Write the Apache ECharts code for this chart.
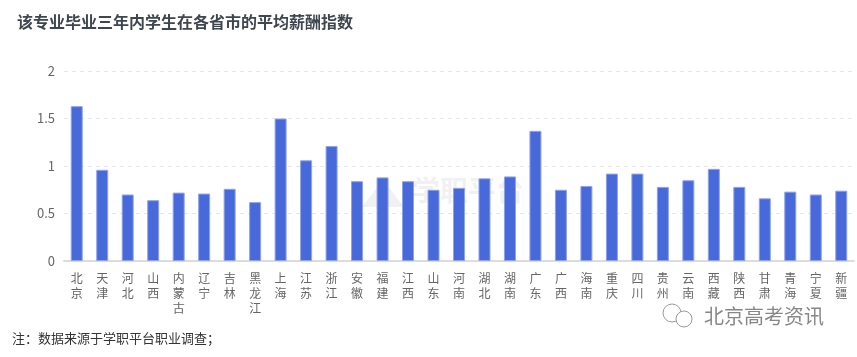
<!DOCTYPE html>
<html><head><meta charset="utf-8">
<script src="https://cdn.jsdelivr.net/npm/echarts@6/dist/echarts.min.js"></script>
<style>html,body{margin:0;padding:0;background:#fff}#c{width:857px;height:357px}</style>
</head><body><div id="c"></div>
<script>
const categories = ['北京','天津','河北','山西','内蒙古','辽宁','吉林','黑龙江','上海','江苏','浙江','安徽','福建','江西','山东','河南','湖北','湖南','广东','广西','海南','重庆','四川','贵州','云南','西藏','陕西','甘肃','青海','宁夏','新疆'];
const values = [1.63,0.96,0.70,0.64,0.72,0.71,0.76,0.62,1.50,1.06,1.21,0.84,0.88,0.84,0.75,0.77,0.87,0.89,1.37,0.75,0.79,0.92,0.92,0.78,0.85,0.97,0.78,0.66,0.73,0.70,0.74];
const yTicks = [0, 0.5, 1, 1.5, 2];
const titleText = '该专业毕业三年内学生在各省市的平均薪酬指数';
const noteText = '注：数据来源于学职平台职业调查；';
const ff = '"Noto Sans CJK SC", "Noto Sans", sans-serif';
const chart = echarts.init(document.getElementById('c'), null, {renderer:'canvas'});
chart.setOption({
  animation:false,
  title:{text:titleText,left:12,top:9,textStyle:{fontFamily:ff,fontSize:16,fontWeight:'bold',color:'#3f4650'}},
  grid:{left:64,right:3,top:71,bottom:96,containLabel:false},
  xAxis:{type:'category',data:categories,
    axisLine:{lineStyle:{color:'#dcdcdc',width:2}},
    axisTick:{alignWithLabel:true,length:4,lineStyle:{color:'#cccccc'}},
    axisLabel:{interval:0,margin:10,color:'#666',fontFamily:ff,fontSize:12,lineHeight:15,
      formatter:v=>v.split('').join('\n')}},
  yAxis:{type:'value',min:yTicks[0],max:yTicks[yTicks.length-1],interval:0.5,
    axisLine:{show:false},axisTick:{show:false},
    axisLabel:{color:'#666',fontFamily:ff,fontSize:13,margin:9},
    splitLine:{lineStyle:{color:'#e6e6e6',type:[4,4]}}},
  series:[{type:'bar',data:values,barWidth:12,
    itemStyle:{color:'#4869DA',borderColor:'#8fa3ea',borderWidth:1}}],
  graphic:[
    {type:'text',left:12,top:332,style:{text:noteText,font:'13px '+ff,fill:'#333'}},
    {type:'polygon',shape:{points:[[383,180],[362,207],[404,207]]},style:{fill:'rgba(215,215,215,0.35)'}},
    {type:'text',left:412,top:176,style:{text:'学职平台',font:'bold 28px '+ff,fill:'rgba(215,215,215,0.35)'}},
    {type:'circle',shape:{cx:672,cy:313,r:9},style:{fill:'none',stroke:'#999',lineWidth:1}},
    {type:'circle',shape:{cx:684,cy:319,r:8},style:{fill:'#fff',stroke:'#999',lineWidth:1}},
    {type:'text',left:704,top:306,style:{text:'北京高考资讯',font:'20px '+ff,fill:'#888'}}
  ]
});
</script></body></html>
